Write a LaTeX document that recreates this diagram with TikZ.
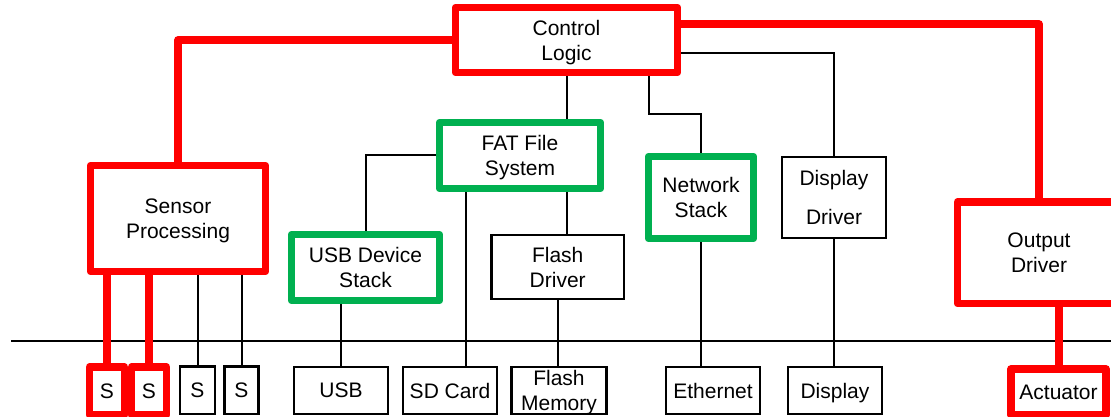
\documentclass[tikz,border=0pt]{standalone}
\usepackage{fontspec}
\setmainfont{Liberation Sans}
\definecolor{alarmred}{RGB}{255,0,0}
\definecolor{okgreen}{RGB}{0,176,80}

\begin{document}
\begin{tikzpicture}[x=1pt,y=-1pt,
  blk/.style={draw=black, line width=2.3pt, fill=white, inner sep=0pt,
              align=center, text depth=0pt, font=\fontsize{21}{25}\selectfont},
  redblk/.style={blk, draw=alarmred, line width=7.5pt, line join=round},
  grnblk/.style={blk, draw=okgreen, line width=7.5pt, line join=round},
  sz/.style 2 args={minimum width=#1pt, minimum height=#2pt},
  wire/.style={draw=black, line width=2pt},
  redwire/.style={draw=alarmred, line width=7.5pt, line join=round},
  busline/.style={draw=black, line width=2pt},
]
\useasboundingbox (0,0) rectangle (1111,417);
\clip (0,0) rectangle (1111,417);

% shared bus
\coordinate (busL) at (11,341);
\coordinate (busR) at (1111,341);
\draw[busline] (busL) -- (busR);

% software blocks
\node[redblk, sz={222}{65}]  (ctrl)     at (566.5,40)    {Control\\Logic};
\node[redblk, sz={175}{106}] (sensor)   at (178,218.5)   {Sensor\\Processing};
\node[grnblk, sz={161}{66}]  (fat)      at (520,155.5)   {FAT File\\System};
\node[grnblk, sz={148}{66}]  (usbstack) at (365.5,267.5) {USB Device\\Stack};
\node[grnblk, sz={105}{82}]  (net)      at (701,197.5)   {Network\\Stack};
\node[blk, sz={104}{81}, font=\fontsize{21}{39}\selectfont, text depth=-2pt]
                             (dispdrv)  at (834,197.5)   {Display\\Driver};
\node[blk, sz={132.5}{64}]   (flashdrv) at (557.7,267)   {Flash\\Driver};
\node[redblk, sz={163}{101.5}] (out)    at (1039,252.75) {Output\\Driver};

% hardware devices
\node[redblk, sz={35}{48}]   (s1)   at (107,391)    {S};
\node[redblk, sz={35}{48}]   (s2)   at (149,391)    {S};
\node[blk, sz={35}{47.5}]    (s3)   at (197.5,390.2) {S};
\node[blk, sz={34}{47.5}]    (s4)   at (241.5,390.2) {S};
\node[blk, sz={94}{47.5}]    (usb)  at (341,390.5)  {USB};
\node[blk, sz={93.5}{47.5}]  (sd)   at (450,390.5)  {SD Card};
\node[blk, sz={95}{47.5}]    (fmem) at (559,390.5)  {Flash\\Memory};
\node[blk, sz={94}{47.5}]    (eth)  at (713,390.5)  {Ethernet};
\node[blk, sz={94}{47.5}]    (disp) at (835,390.5)  {Display};
\node[redblk, sz={95}{46}]   (act)  at (1058.5,392) {Actuator};

% routing points
\coordinate (netjog) at (649,114);
\coordinate (sdtap)  at (466,0);
\coordinate (acttap) at (1059,0);

% control paths
\draw[redwire] (ctrl.west) -| (sensor.north);
\draw[redwire] ([yshift=16pt]ctrl.east) -| (out.north);
\draw[wire] ([yshift=-13pt]ctrl.east) -| (dispdrv.north);
\draw[wire] (ctrl.south) -- (ctrl.south |- fat.north);
\draw[wire] (ctrl.south -| netjog) -- (netjog) -| (net.north);

% file system paths
\draw[wire] (fat.west) -| (usbstack.north);
\draw[wire] (fat.south -| sdtap) -- (sd.north -| sdtap);
\draw[wire] (fat.south -| ctrl.south) -- (flashdrv.north -| ctrl.south);

% driver to device paths
\draw[wire] (usbstack.south -| usb.north) -- (usb.north);
\draw[wire] (flashdrv.south) -- (flashdrv.south |- fmem.north);
\draw[wire] (net.south) -- (net.south |- eth.north);
\draw[wire] (dispdrv.south) -- (dispdrv.south |- disp.north);
\draw[redwire] (out.south -| acttap) -- (act.north -| acttap);

% sensor inputs
\draw[redwire] (sensor.south -| s1.north) -- (s1.north);
\draw[redwire] (sensor.south -| s2.north) -- (s2.north);
\draw[wire] (sensor.south -| s3.north) -- (s3.north);
\draw[wire] (sensor.south -| s4.north) -- (s4.north);
\end{tikzpicture}
\end{document}
